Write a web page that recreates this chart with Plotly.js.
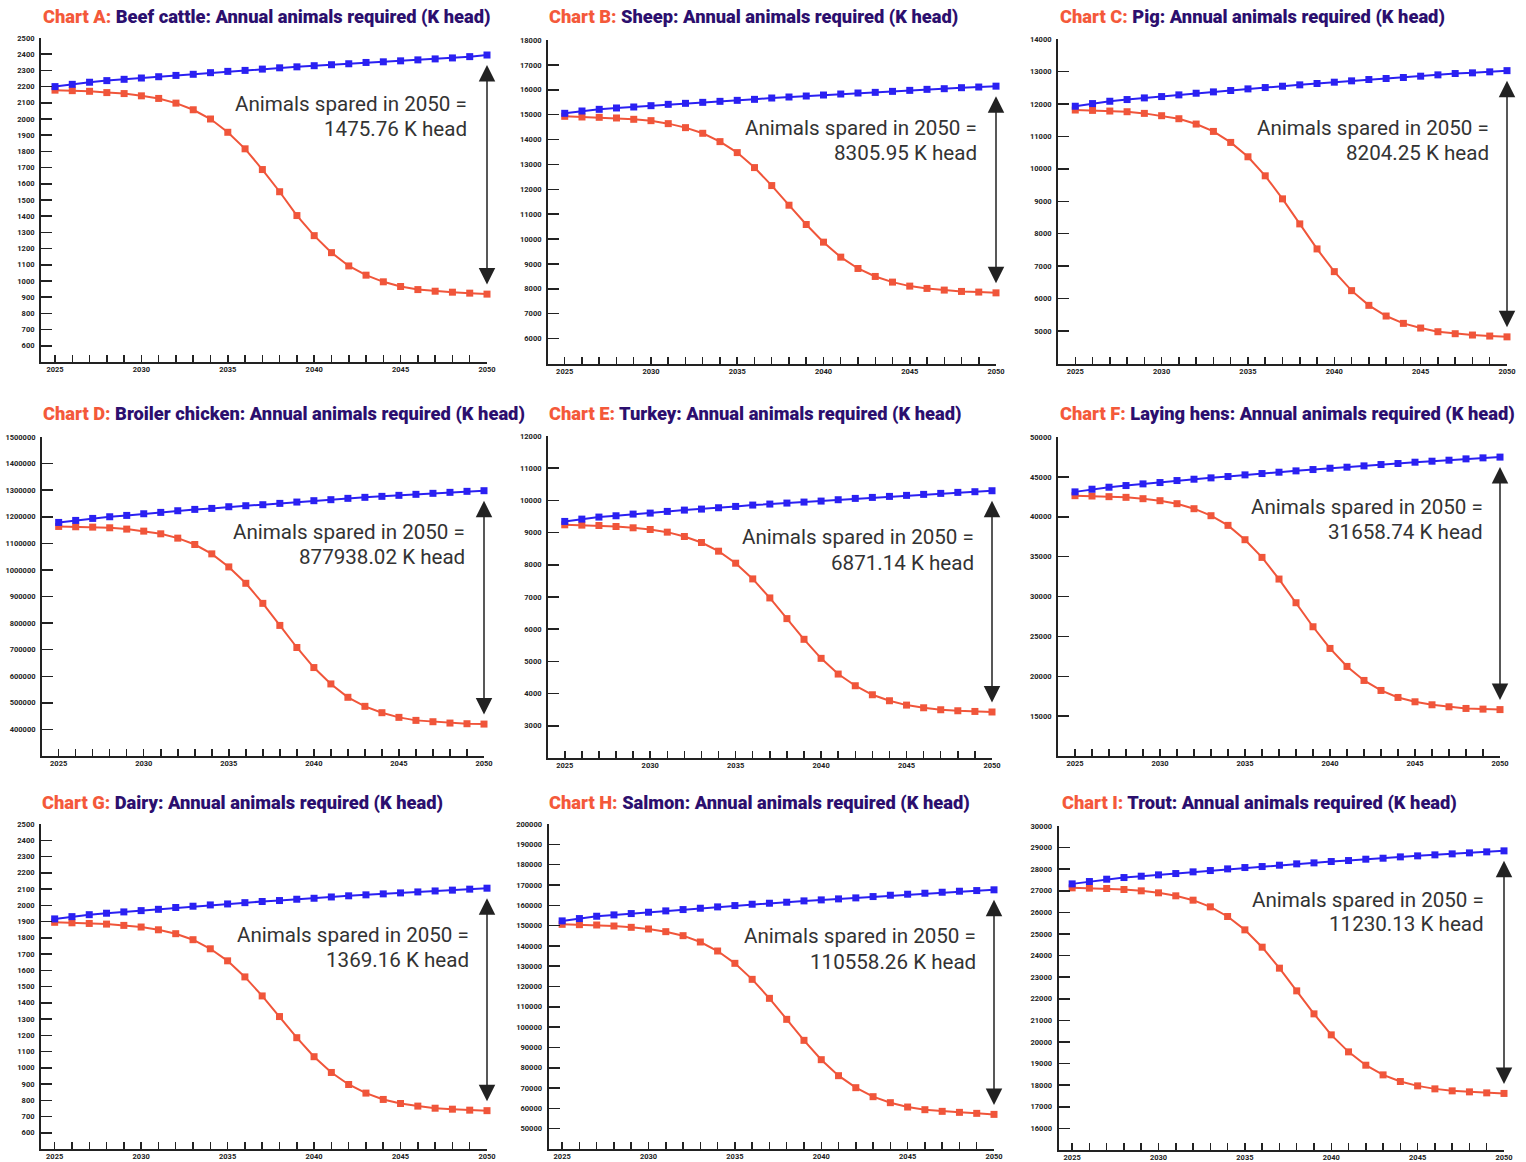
<!DOCTYPE html>
<html>
<head>
<meta charset="utf-8">
<script src="https://cdn.plot.ly/plotly-3.0.1.min.js"></script>
<style>
  html, body { margin: 0; padding: 0; background: #ffffff; }
  #chart { width: 1526px; height: 1162px; }
</style>
</head>
<body>
<div id="chart"></div>
<script>
// ---------------- DATA ----------------
const years = [2025,2026,2027,2028,2029,2030,2031,2032,2033,2034,2035,2036,2037,2038,2039,2040,2041,2042,2043,2044,2045,2046,2047,2048,2049,2050];
const xTickLabels = ["2025","","","","","2030","","","","","2035","","","","","2040","","","","","2045","","","","","2050"];

const chartLetters = ["A","B","C","D","E","F","G","H","I"];
const chartNames = ["Beef cattle","Sheep","Pig","Broiler chicken","Turkey","Laying hens","Dairy","Salmon","Trout"];
const sparedText = ["1475.76","8305.95","8204.25","877938.02","6871.14","31658.74","1369.16","110558.26","11230.13"];

const beefBlue = [2200,2214,2227,2237,2245,2253,2261,2269,2276,2286,2294,2300,2308,2316,2322,2329,2335,2341,2349,2353,2359,2365,2371,2377,2385,2395];
const beefRed  = [2178,2175,2171,2163,2157,2143,2127,2098,2057,2000,1918,1816,1688,1551,1404,1280,1175,1093,1036,995,966,947,937,931,925,919];

const sheepBlue = [15054,15147,15214,15268,15308,15361,15415,15455,15495,15535,15575,15615,15669,15709,15749,15789,15829,15870,15896,15936,15976,16017,16043,16083,16110,16145];
const sheepRed  = [14933,14906,14893,14866,14813,14759,14639,14478,14251,13916,13475,12873,12150,11361,10585,9876,9274,8819,8498,8271,8110,8017,7950,7896,7870,7839];

const pigBlue = [11928,12010,12082,12134,12185,12226,12278,12329,12370,12412,12463,12504,12545,12587,12628,12669,12710,12751,12782,12813,12854,12895,12936,12957,12988,13025];
const pigRed  = [11811,11800,11780,11759,11708,11636,11543,11379,11152,10813,10370,9784,9074,8302,7531,6831,6245,5792,5463,5237,5093,4979,4918,4877,4846,4821];

const broilerBlue = [1178600,1186200,1193700,1200000,1205000,1211300,1216400,1222600,1227700,1231400,1237700,1241500,1245300,1250300,1255300,1260400,1264200,1269200,1273000,1276700,1280500,1284300,1288100,1291800,1295600,1298000];
const broilerRed  = [1163500,1162300,1161000,1158500,1153500,1145900,1135800,1119500,1095600,1060400,1011300,949700,874200,791200,708200,632700,571100,520800,486800,462900,445300,434000,428900,423900,421400,420062];

const turkeyBlue = [9347,9419,9482,9523,9575,9606,9658,9699,9730,9772,9813,9855,9886,9917,9948,9979,10021,10062,10093,10124,10156,10187,10218,10249,10270,10300];
const turkeyRed  = [9242,9232,9221,9190,9149,9097,9014,8879,8693,8423,8050,7562,6971,6329,5686,5095,4607,4244,3964,3778,3643,3560,3498,3467,3446,3429];

const hensBlue = [43118,43453,43704,43913,44122,44289,44540,44707,44875,45042,45251,45418,45585,45753,45920,46087,46213,46380,46547,46673,46840,46965,47091,47258,47384,47480];
const hensRed  = [42641,42599,42516,42432,42265,42014,41637,41010,40132,38919,37121,34905,32187,29218,26207,23489,21231,19474,18220,17342,16798,16422,16171,15962,15878,15821];

const dairyBlue = [1916,1930,1942,1951,1959,1967,1975,1986,1994,2002,2008,2016,2023,2029,2037,2043,2051,2058,2064,2070,2076,2082,2088,2093,2099,2105];
const dairyRed  = [1895,1892,1888,1884,1876,1866,1849,1825,1788,1732,1658,1559,1442,1315,1185,1068,971,897,844,805,780,764,751,745,739,736];

const salmonBlue = [152298,153447,154595,155252,155908,156565,157221,157878,158534,159191,159847,160504,160996,161489,162145,162637,163130,163622,164279,164935,165428,165920,166412,166905,167233,167600];
const salmonRed  = [150607,150443,150279,149787,149130,148310,146997,145027,141909,137477,131405,123527,114172,103832,93493,83974,76096,70187,65756,62802,60668,59355,58534,58042,57550,57042];

const troutBlue = [27321,27429,27537,27614,27676,27738,27799,27877,27938,28015,28077,28123,28185,28247,28293,28355,28401,28463,28509,28571,28617,28664,28710,28756,28803,28849];
const troutRed  = [27137,27122,27106,27060,26998,26906,26767,26566,26257,25810,25192,24390,23418,22368,21303,20331,19543,18926,18478,18170,17969,17830,17738,17691,17645,17619];

const baselineSeries = [beefBlue, sheepBlue, pigBlue, broilerBlue, turkeyBlue, hensBlue, dairyBlue, salmonBlue, troutBlue];
const scenarioSeries = [beefRed, sheepRed, pigRed, broilerRed, turkeyRed, hensRed, dairyRed, salmonRed, troutRed];

// y-axis scale per chart: [min, max, step]
const yScales = [[500,2500,100],[5000,18000,1000],[4000,14000,1000],[300000,1500000,100000],[2000,12000,1000],[10000,50000,5000],[500,2500,100],[40000,200000,10000],[15000,30000,1000]];

// ---------------- LAYOUT (pixel boxes) ----------------
const W = 1526, H = 1162;
// plot boxes: [left, right, top, bottom], x-axis start year
const boxes = [
  [41, 487, 38, 362, 2024.19],
  [548, 996, 40, 363.5, 2024.03],
  [1058, 1507, 39, 363.5, 2024.0],
  [42, 484, 437, 756, 2024.02],
  [548, 992, 436, 758, 2024.02],
  [1058, 1500, 437, 756, 2024.0],
  [41, 487, 824, 1149, 2024.21],
  [548.5, 994, 824, 1149, 2024.21],
  [1058.5, 1504, 826, 1150, 2024.21]
];
const titlePos = [[41,17],[547,17],[1058,17],[41,414],[547,414],[1058,414],[40,803],[547,803],[1060,803]];
// [right edge, line 1 centre, line 2 centre]
const labelPos = [[469,104,129],[979,128,153],[1491,128,153],[467,532,557],[976,537,563],[1485,507,532],[471,935,960],[978,936,962],[1486,900,924]];

const BLUE = '#2a20f2';
const RED = '#f0553a';
const TITLE_ORANGE = '#f4593a';
const TITLE_NAVY = '#2c0f6e';
const AX = '#222222';

const px = v => v / W;
const py = v => 1 - v / H;

const data = [];
const layout = {
  width: W, height: H,
  margin: {l: 0, r: 0, t: 0, b: 0},
  paper_bgcolor: '#ffffff',
  plot_bgcolor: '#ffffff',
  showlegend: false,
  annotations: [],
  font: {family: 'Roboto, sans-serif'}
};

for (let i = 0; i < 9; i++) {
  const n = i + 1;
  const xk = n === 1 ? 'x' : 'x' + n;
  const yk = n === 1 ? 'y' : 'y' + n;
  const [l, r, t, b, x0] = boxes[i];
  const [ymin, ymax, ystep] = yScales[i];
  const yTicks = [];
  for (let v = ymin + ystep; v <= ymax + 1e-9; v += ystep) yTicks.push(v);

  layout[n === 1 ? 'xaxis' : 'xaxis' + n] = {
    domain: [px(l), px(r)],
    range: [x0, 2050],
    anchor: yk,
    tickmode: 'array',
    tickvals: years,
    ticktext: xTickLabels,
    ticks: 'inside', ticklen: 7, tickwidth: 1.5, tickcolor: AX,
    showline: true, linecolor: AX, linewidth: 2,
    showgrid: false, zeroline: false,
    tickfont: {family: 'Roboto', size: 7.5, color: AX, weight: 'bold'},
    ticklabelstandoff: -1,
    fixedrange: true
  };
  layout[n === 1 ? 'yaxis' : 'yaxis' + n] = {
    domain: [py(b), py(t)],
    range: [ymin, ymax],
    anchor: xk,
    tickmode: 'array',
    tickvals: yTicks,
    ticktext: yTicks.map(v => String(v)),
    ticks: 'inside', ticklen: 11, tickwidth: 1.5, tickcolor: AX,
    showline: true, linecolor: AX, linewidth: 2,
    showgrid: false, zeroline: false,
    tickfont: {family: 'Roboto', size: 7.5, color: AX, weight: 'bold'},
    ticklabelstandoff: 3,
    fixedrange: true
  };

  data.push({
    type: 'scatter', mode: 'lines+markers',
    x: years, y: scenarioSeries[i], xaxis: xk, yaxis: yk,
    line: {color: RED, width: 2},
    marker: {symbol: 'square', size: 7, color: RED},
    cliponaxis: false, hoverinfo: 'skip'
  });
  data.push({
    type: 'scatter', mode: 'lines+markers',
    x: years, y: baselineSeries[i], xaxis: xk, yaxis: yk,
    line: {color: BLUE, width: 2},
    marker: {symbol: 'square', size: 7, color: BLUE},
    cliponaxis: false, hoverinfo: 'skip'
  });

  // title
  layout.annotations.push({
    xref: 'paper', yref: 'paper',
    x: px(titlePos[i][0]), y: py(titlePos[i][1]),
    xanchor: 'left', yanchor: 'middle',
    showarrow: false,
    text: '<span style="color:' + TITLE_ORANGE + '">Chart ' + chartLetters[i] + ':</span> ' + chartNames[i] + ': Annual animals required (K head)',
    font: {family: 'Roboto', size: 18.3, color: TITLE_NAVY, weight: 900}
  });

  // spared label, two right-aligned lines
  const lines = ['Animals spared in 2050 =', sparedText[i] + ' K head'];
  lines.forEach((txt, k) => {
    layout.annotations.push({
      xref: 'paper', yref: 'paper',
      x: px(labelPos[i][0]), y: py(labelPos[i][1 + k]),
      xanchor: 'right', yanchor: 'middle', align: 'right',
      showarrow: false,
      text: txt,
      font: {family: 'Roboto', size: 20.6, color: '#333333'}
    });
  });

  // double arrow between the two 2050 values
  const bEnd = baselineSeries[i][baselineSeries[i].length - 1];
  const rEnd = scenarioSeries[i][scenarioSeries[i].length - 1];
  layout.annotations.push({
    xref: xk, yref: yk, axref: xk, ayref: yk,
    x: 2050, y: bEnd, ax: 2050, ay: rEnd,
    text: '', showarrow: true,
    arrowside: 'end+start',
    arrowhead: 2, startarrowhead: 2,
    arrowsize: 2.2, startarrowsize: 2.2,
    arrowwidth: 1.5, arrowcolor: '#222222',
    standoff: 10, startstandoff: 8
  });
}

Plotly.newPlot('chart', data, layout, {staticPlot: true, displayModeBar: false});
</script>
</body>
</html>
